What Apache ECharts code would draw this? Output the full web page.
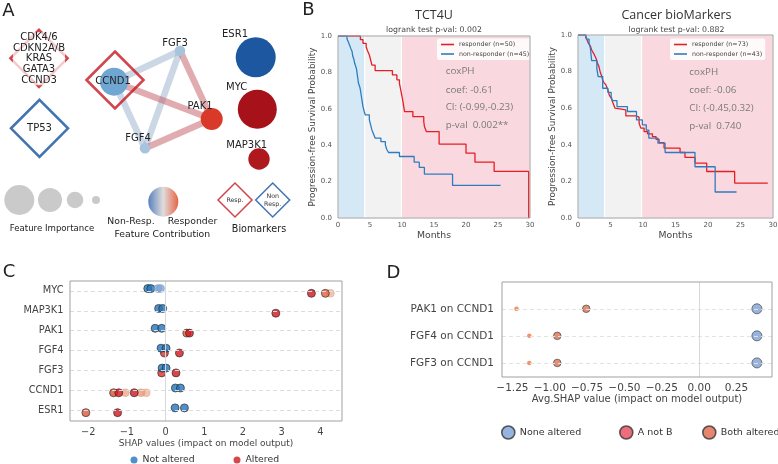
<!DOCTYPE html>
<html><head><meta charset="utf-8">
<script src="https://cdn.jsdelivr.net/npm/echarts@6/dist/echarts.min.js"></script>
<style>html,body{margin:0;padding:0;background:#fff}#c{width:778px;height:464px}</style>
</head><body><div id="c"></div>
<script>
// ================= DATA =================
// Panel A: network (layout coordinates in panel units)
const netGenes = ['CCND1','FGF3','FGF4','PAK1','ESR1','MYC','MAP3K1'];
const netX = [114, 180, 145, 211.7, 255.7, 257.3, 259];
const netY = [81.7, 50.7, 148.3, 119, 57.3, 109.3, 159];
const netImportance = [14, 5.3, 5.3, 11, 20, 19.5, 10.7];
const netContribution = [-0.62, -0.3, -0.3, 0.55, -0.97, 0.95, 0.88];
const edgeSource = ['CCND1','CCND1','FGF3','CCND1','FGF3','FGF4'];
const edgeTarget = ['FGF3','FGF4','FGF4','PAK1','PAK1','PAK1'];
const edgeSign = [-1,-1,-1,1,1,1];
const bioNames = ['CDK4/6\nCDKN2A/B\nKRAS\nGATA3\nCCND3','TP53','CCND1'];
const bioX = [39, 39.5, 115];
const bioY = [58.3, 128.3, 80];
const bioClass = ['resp','nonresp','resp'];
const importanceLegend = [15, 12, 8.3, 4];

// Panel B: Kaplan-Meier curves [month, survival]
const tctResp = [[0,1],[3.5,0.98],[3.9,0.96],[4.4,0.94],[4.6,0.92],[4.9,0.896],[5.1,0.868],[5.3,0.84],[5.8,0.81],[8.5,0.786],[9.2,0.759],[9.6,0.74],[9.8,0.704],[10.1,0.649],[10.4,0.585],[11.7,0.557],[13.4,0.53],[13.5,0.503],[13.8,0.475],[15.8,0.406],[20.0,0.356],[21.4,0.307],[24.4,0.256],[29.8,0]];
const tctNon = [[0,1],[1.4,0.985],[1.6,0.969],[1.8,0.95],[2.0,0.932],[2.2,0.915],[2.3,0.89],[2.5,0.87],[2.6,0.85],[2.8,0.83],[2.9,0.817],[3.0,0.79],[3.1,0.765],[3.2,0.74],[3.4,0.72],[3.5,0.704],[3.6,0.68],[3.7,0.658],[3.8,0.635],[3.9,0.612],[4.1,0.585],[4.25,0.567],[4.9,0.539],[5.1,0.512],[5.3,0.484],[5.5,0.466],[5.8,0.439],[6.7,0.42],[7.4,0.402],[7.6,0.378],[7.9,0.36],[9.6,0.338],[11.9,0.307],[12.7,0.278],[13.5,0.241],[17.9,0.179],[25.4,0.179]];
const cbResp = [[0,1],[1.2,0.986],[1.4,0.973],[1.6,0.955],[1.9,0.94],[2.1,0.918],[2.4,0.9],[2.6,0.885],[2.8,0.87],[3.0,0.845],[3.2,0.83],[3.4,0.8],[3.6,0.78],[3.8,0.754],[4.0,0.74],[4.3,0.727],[4.6,0.70],[4.8,0.673],[5.1,0.655],[5.3,0.636],[5.5,0.618],[5.7,0.60],[5.8,0.591],[7.36,0.558],[8.9,0.551],[9.4,0.518],[9.66,0.491],[10.17,0.472],[10.7,0.46],[11.45,0.445],[12.0,0.43],[12.47,0.412],[13.24,0.382],[15.7,0.358],[16.46,0.331],[18.0,0.30],[19.8,0.254],[24.1,0.191],[29.2,0.191]];
const cbNon = [[0,1],[1.2,1],[1.3,0.977],[1.7,0.955],[1.9,0.93],[2.1,0.86],[2.9,0.815],[3.1,0.773],[3.8,0.709],[4.6,0.686],[5.1,0.664],[5.3,0.641],[6.0,0.609],[7.6,0.582],[9.0,0.536],[9.9,0.509],[10.5,0.48],[10.9,0.436],[12.3,0.409],[13.4,0.358],[18.0,0.28],[21.1,0.142],[24.4,0.142]];
const tctBands = [0, 4.2, 9.9, 30];
const cbBands = [0, 4.1, 9.8, 30];
const kmTitles = ['TCT4U','Cancer bioMarkers'];
const kmLogrank = ['logrank test p-val: 0.002','logrank test p-val: 0.882'];
const kmLegend = [['responder (n=50)','non-responder (n=45)'],['responder (n=73)','non-responder (n=43)']];
const kmCox = [['coxPH','coef: -0.61','CI: (-0.99,-0.23)','p-val  0.002**'],['coxPH','coef: -0.06','CI: (-0.45,0.32)','p-val  0.740']];

// Panel C: SHAP values
const cGenes = ['MYC','MAP3K1','PAK1','FGF4','FGF3','CCND1','ESR1'];
const cTicks = [-2,-1,0,1,2,3,4];
const notAltGene = ['MYC','MYC','MYC','MYC','MAP3K1','MAP3K1','PAK1','PAK1','FGF4','FGF4','FGF3','FGF3','CCND1','CCND1','ESR1','ESR1'];
const notAltShap = [-0.46,-0.38,-0.20,-0.13,-0.18,-0.075,-0.27,-0.10,-0.117,0.013,-0.09,0.013,0.254,0.384,0.246,0.487];
const notAltShade = [1,1,0.45,0.45,1,1,1,1,1,1,1,1,1,1,1,1];
const altGene = ['MYC','MYC','MYC','MAP3K1','PAK1','PAK1','FGF4','FGF4','FGF3','FGF3','CCND1','CCND1','CCND1','CCND1','CCND1','CCND1','ESR1','ESR1'];
const altShap = [3.77,4.26,4.13,2.85,0.548,0.617,-0.03,0.358,-0.10,0.27,-0.50,-0.635,-1.04,-1.343,-1.21,-0.81,-2.06,-1.24];
const altShade = [1,0.3,0.6,1,0.6,1,0.85,1,0.85,1,0.3,0.4,0.35,0.7,1,1,0.65,1];

// Panel D: average SHAP
const dLabels = ['PAK1 on CCND1','FGF4 on CCND1','FGF3 on CCND1'];
const dTicks = [-1.25,-1.0,-0.75,-0.5,-0.25,0,0.25];
const dNone = [0.387, 0.387, 0.387];
const dBoth = [-0.756, -0.95, -0.95];
const dAnotB = [-1.223, -1.137, -1.137];

// ================= STYLE / LAYOUT =================
const FONT = 'DejaVu Sans';
const G = {
  A: {left:0, top:0, width:300, height:250},
  B1: {left:338, top:36, width:192, height:182},
  B2: {left:578, top:35, width:195, height:183},
  C: {left:70, top:281, width:272, height:140},
  D: {left:502, top:282, width:270, height:95}
};
function lerp(a,b,t){return a+(b-a)*t;}
function hex(c){return [parseInt(c.slice(1,3),16),parseInt(c.slice(3,5),16),parseInt(c.slice(5,7),16)];}
function interp(stops, v){
  if (v<=stops[0][0]) return stops[0][1];
  for (let i=1;i<stops.length;i++){
    if (v<=stops[i][0]){
      const t=(v-stops[i-1][0])/(stops[i][0]-stops[i-1][0]);
      const a=hex(stops[i-1][1]), b=hex(stops[i][1]);
      return 'rgb('+a.map((x,k)=>Math.round(lerp(x,b[k],t))).join(',')+')';
    }
  }
  return stops[stops.length-1][1];
}
const contribStops = [[-1,'#15509c'],[-0.6,'#74acd5'],[-0.3,'#a8c3dc'],[0,'#d6d6d6'],[0.5,'#df3e2a'],[1,'#a00c18']];
const redStops = [[0.3,'#efb49a'],[0.6,'#e2603e'],[1,'#d0161e']];
const blueStops = [[0.4,'#86acd9'],[1,'#2474bb']];
const fmtMinus = v => (v<0?'\u2212':'') + Math.abs(v);

function T(x,y,text,size,o){
  o=o||{};
  return {type:'text', x:x, y:y, z:50, silent:true, style:Object.assign({
    text:text, fontSize:size, fontFamily:o.font||FONT, fill:o.color||'#222',
    align:o.align||'center', verticalAlign:o.va||'middle', lineHeight:o.lh
  }, o.style||{})};
}
function frame(g){
  return {type:'rect', z:60, silent:true, shape:{x:g.left, y:g.top, width:g.width, height:g.height}, style:{fill:'none', stroke:'#a0a0a0', lineWidth:1}};
}

// ================= OPTION =================
const grids = [G.A, G.B1, G.B2, G.C, G.D].map(g => Object.assign({containLabel:false, outerBoundsMode:'none'}, g));

const kmX = (gi) => ({gridIndex:gi, type:'value', min:0, max:30, interval:5,
  axisLine:{show:false}, axisTick:{show:false}, splitLine:{show:false},
  axisLabel:{fontSize:7, color:'#555', margin:3.5, fontFamily:FONT},
  name:'Months', nameLocation:'middle', nameGap:13.5, nameTextStyle:{fontSize:9.3, color:'#444', fontFamily:FONT}});
const kmY = (gi) => ({gridIndex:gi, type:'value', min:0, max:1, interval:0.2,
  axisLine:{show:false}, axisTick:{show:false}, splitLine:{show:false},
  axisLabel:{fontSize:7, color:'#555', margin:6, fontFamily:FONT, formatter:v=>v.toFixed(1)},
  name:'Progression-free Survival Probability', nameLocation:'middle', nameGap:19,
  nameTextStyle:{fontSize:8.8, color:'#444', fontFamily:FONT}});

const xAxis = [
  {gridIndex:0, type:'value', min:0, max:300, show:false},
  kmX(1), kmX(2),
  {gridIndex:3, type:'value', min:-2.47, max:4.56, axisLine:{show:false}, axisTick:{show:false}, splitLine:{show:false},
   axisLabel:{customValues:cTicks, formatter:fmtMinus, fontSize:9.8, color:'#444', margin:6, fontFamily:FONT},
   name:'SHAP values (impact on model output)', nameLocation:'middle', nameGap:18, nameTextStyle:{fontSize:9, color:'#444', fontFamily:FONT}},
  {gridIndex:4, type:'value', min:-1.32, max:0.488, axisLine:{show:false}, axisTick:{show:false}, splitLine:{show:false},
   axisLabel:{customValues:dTicks, formatter:v=>(v<0?'\u2212':'')+Math.abs(v).toFixed(2), fontSize:10.5, color:'#444', margin:6, fontFamily:FONT},
   name:'Avg.SHAP value (impact on model output)', nameLocation:'middle', nameGap:16.5, nameTextStyle:{fontSize:10, color:'#444', fontFamily:FONT}}
];
const yAxis = [
  {gridIndex:0, type:'value', min:0, max:250, inverse:true, show:false},
  kmY(1), kmY(2),
  {gridIndex:3, type:'value', min:-0.54, max:6.5, axisLine:{show:false}, axisTick:{show:false}, splitLine:{show:false},
   axisLabel:{customValues:[0,1,2,3,4,5,6], formatter:v=>cGenes[6-Math.round(v)], fontSize:9.8, color:'#444', margin:6.5, fontFamily:FONT}},
  {gridIndex:4, type:'value', min:-0.52, max:2.99, axisLine:{show:false}, axisTick:{show:false}, splitLine:{show:false},
   axisLabel:{customValues:[0,1,2], formatter:v=>dLabels[2-Math.round(v)], fontSize:10.5, color:'#444', margin:8, fontFamily:FONT}}
];

const series = [];
// ---- Panel A ----
series.push({
  type:'graph', coordinateSystem:'cartesian2d', xAxisIndex:0, yAxisIndex:0, silent:true, z:2,
  data: netGenes.map((g,i)=>({name:g, value:[netX[i], netY[i]], symbolSize:2*netImportance[i], itemStyle:{color:interp(contribStops, netContribution[i])}})),
  links: edgeSource.map((s,i)=>({source:s, target:edgeTarget[i], lineStyle:{color: edgeSign[i]>0 ? 'rgba(195,90,98,0.5)' : 'rgba(160,182,205,0.55)', width:6.5, opacity:1, curveness:0}})),
  label:{show:false}, edgeSymbol:['none','none']
});
series.push({
  type:'scatter', xAxisIndex:0, yAxisIndex:0, symbol:'diamond', silent:true, z:3,
  data: bioNames.map((n,i)=>({value:[bioX[i], bioY[i]], symbolSize:[57,57],
    itemStyle:{color:'rgba(0,0,0,0)', borderColor: bioClass[i]==='resp' ? '#c8161f' : '#12529f', borderWidth:2.6}}))
});
// legend diamonds (Resp./Non Resp.)
series.push({
  type:'scatter', xAxisIndex:0, yAxisIndex:0, symbol:'diamond', silent:true, z:3,
  data: [{value:[235,200], symbolSize:[34,34], itemStyle:{color:'rgba(0,0,0,0)', borderColor:'#c8161f', borderWidth:1.5}},
         {value:[272.7,200], symbolSize:[34,34], itemStyle:{color:'rgba(0,0,0,0)', borderColor:'#12529f', borderWidth:1.5}}]
});
// feature-importance legend circles
const impLegX = [19.3, 50, 75, 96];
series.push({
  type:'scatter', xAxisIndex:0, yAxisIndex:0, silent:true, z:3,
  data: importanceLegend.map((v,i)=>({value:[impLegX[i], 200], symbolSize:2*v})),
  itemStyle:{color:'#bdbdbd'}
});
// contribution gradient
series.push({
  type:'scatter', xAxisIndex:0, yAxisIndex:0, silent:true, z:3, symbolSize:30,
  data:[[163.3, 201.7]],
  itemStyle:{color:{type:'linear', x:0, y:0, x2:1, y2:0, colorStops:[{offset:0,color:'#2f62ae'},{offset:0.5,color:'#d8d4d2'},{offset:1,color:'#e23c1c'}]}}
});

// ---- Panel B ----
const bandColors = ['#d5e8f6','#f2f2f2','#f9d9df'];
function bandArea(b){
  return [0,1,2].map(i=>[{xAxis:b[i], itemStyle:{color:bandColors[i], borderColor:'#fff', borderWidth:1}},{xAxis:b[i+1]}]);
}
[[tctResp, tctNon, tctBands],[cbResp, cbNon, cbBands]].forEach((k,j)=>{
  const gi = j+1;
  series.push({type:'line', xAxisIndex:gi, yAxisIndex:gi, data:[], z:1, silent:true,
    markArea:{silent:true, data:bandArea(k[2])}});
  series.push({type:'line', name:kmLegend[j][0], xAxisIndex:gi, yAxisIndex:gi, data:k[0], step:'end', symbol:'none', z:4,
    lineStyle:{color:'#e51e25', width:1.3}, itemStyle:{color:'#e51e25'}});
  series.push({type:'line', name:kmLegend[j][1], xAxisIndex:gi, yAxisIndex:gi, data:k[1], step:'end', symbol:'none', z:4,
    lineStyle:{color:'#2e7cc0', width:1.3}, itemStyle:{color:'#2e7cc0'}});
});

// ---- Panel C ----
const rowOf = g => 6 - cGenes.indexOf(g);
series.push({type:'scatter', xAxisIndex:3, yAxisIndex:3, data:[], z:1, silent:true,
  markLine:{silent:true, symbol:'none', label:{show:false},
    lineStyle:{color:'#dcdcdc', type:[4,3], width:1},
    data:[0,1,2,3,4,5,6].map(r=>({yAxis:r})).concat([{xAxis:0, lineStyle:{color:'#d8d8d8', type:'solid', width:1}}])}});
series.push({type:'scatter', name:'Altered', xAxisIndex:3, yAxisIndex:3, z:3, symbolSize:8,
  itemStyle:{color:'#d0161e'},
  data: altShap.map((v,i)=>({value:[v, rowOf(altGene[i]) - 0.12], itemStyle:{color:interp(redStops, altShade[i]),
    borderColor: altShade[i]>0.5 ? 'rgba(40,40,40,0.9)' : 'rgba(200,150,130,0.4)', borderWidth:0.9}}))});
series.push({type:'scatter', name:'Not altered', xAxisIndex:3, yAxisIndex:3, z:4, symbolSize:8,
  itemStyle:{color:'#2474bb'},
  data: notAltShap.map((v,i)=>({value:[v, rowOf(notAltGene[i]) + 0.12], itemStyle:{color:interp(blueStops, notAltShade[i]),
    borderColor: notAltShade[i]>0.5 ? 'rgba(40,40,40,0.9)' : 'rgba(110,140,180,0.5)', borderWidth:0.9}}))});

// ---- Panel D ----
series.push({type:'scatter', xAxisIndex:4, yAxisIndex:4, data:[], z:1, silent:true,
  markLine:{silent:true, symbol:'none', label:{show:false},
    lineStyle:{color:'#e2e2e2', type:[4,3], width:1},
    data:[0,1,2].map(r=>({yAxis:r})).concat([{xAxis:0, lineStyle:{color:'#d8d8d8', type:'solid', width:1}}])}});
series.push({type:'scatter', name:'None altered', xAxisIndex:4, yAxisIndex:4, z:3, symbolSize:10,
  itemStyle:{color:'#7da1d6', borderColor:'#555', borderWidth:1},
  data: dNone.map((v,i)=>[v, 2-i])});
series.push({type:'scatter', name:'A not B', xAxisIndex:4, yAxisIndex:4, z:3, symbolSize:4.5,
  itemStyle:{color:'#f07845'},
  data: dAnotB.map((v,i)=>[v, 2-i])});
series.push({type:'scatter', name:'Both altered', xAxisIndex:4, yAxisIndex:4, z:3, symbolSize:7.5,
  itemStyle:{color:'#e0714f', borderColor:'#555', borderWidth:1},
  data: dBoth.map((v,i)=>[v, 2-i])});

// ---- Legends ----
const kmLeg = (j, left, top) => ({left:left, top:top, orient:'vertical', itemGap:3.5, itemWidth:13, itemHeight:1.6, icon:'rect',
  data:kmLegend[j], textStyle:{fontSize:6.3, color:'#444', fontFamily:FONT}, backgroundColor:'rgba(255,255,255,0.85)',
  padding:[3,3,3,4], borderRadius:2, selectedMode:false});
const dotLeg = (name, left, top, size, color, border, fs) => ({left:left, top:top, itemWidth:size, itemHeight:size, icon:'circle',
  selectedMode:false, padding:0, data:[{name:name, itemStyle:{color:color, borderColor:border||color, borderWidth:border?1.6:0}}],
  textStyle:{fontSize:fs, color:'#333', fontFamily:FONT}});
const legend = [
  kmLeg(0, 437, 38.5), kmLeg(1, 670, 38.5),
  dotLeg('Not altered', 130.5, 455.5, 7, '#2474bb', null, 9.3),
  dotLeg('Altered', 233.5, 455.5, 7, '#cc1a1f', null, 9.3),
  dotLeg('None altered', 501, 425.2, 13, '#7da1d6', '#333', 9.5),
  dotLeg('A not B', 619, 425.2, 13, '#e8485c', '#333', 9.5),
  dotLeg('Both altered', 702, 425.2, 13, '#e0684a', '#333', 9.5)
];

// ---- Graphic texts ----
const graphic = [];
graphic.push(T(8.5,11,'A',18), T(308.5,10.5,'B',18), T(9,272.5,'C',18), T(393.5,273.5,'D',18));
// panel A labels
graphic.push(T(bioX[0], bioY[0]+0.5, bioNames[0], 10, {lh:10.6, style:{backgroundColor:'rgba(255,255,255,0.72)', padding:[0,0]}}));
graphic.push(T(bioX[1], bioY[1], bioNames[1], 10));
graphic.push(T(113, 81, bioNames[2], 10));
const nodeLabelPos = {FGF3:[175,43], PAK1:[200,106], FGF4:[138,138], ESR1:[235,34.3], MYC:[236.7,87.3], MAP3K1:[246.7,145]};
Object.keys(nodeLabelPos).forEach(k=>graphic.push(T(nodeLabelPos[k][0], nodeLabelPos[k][1], k, 10)));
graphic.push(T(52,229,'Feature Importance',8.6));
graphic.push(T(131,221.7,'Non-Resp.',9.3), T(192.5,221.7,'Responder',9.3), T(162.3,234.3,'Feature Contribution',9.3));
graphic.push(T(259,229,'Biomarkers',9.6));
graphic.push(T(235,200,'Resp.',6.3,{color:'#333'}), T(272.7,200,'Non\nResp.',6.3,{color:'#333', lh:8}));
// panel B titles and cox text
const titleX = [434, 676.5];
const coxX = [445.7, 689.3];
const coxY = [[71.7,90,107.3,125],[72.7,90,108.3,126.7]];
[0,1].forEach(j=>{
  graphic.push(T(titleX[j], 15, kmTitles[j], 12.5, {font:'Open Sans', color:'#333'}));
  graphic.push(T(titleX[j], 29.5, kmLogrank[j], 7.8, {color:'#444'}));
  kmCox[j].forEach((s,i)=>graphic.push(T(coxX[j], coxY[j][i], s, 9.8, {font:'Open Sans', color:'#7a7a7a', align:'left'})));
});
graphic.push(frame(G.B1), frame(G.B2), frame(G.C), frame(G.D));

const chart = echarts.init(document.getElementById('c'), null, {renderer:'canvas', width:778, height:464});
chart.setOption({animation:false, backgroundColor:'#fff', grid:grids, xAxis:xAxis, yAxis:yAxis, series:series, legend:legend, graphic:graphic});
</script>
</body></html>
